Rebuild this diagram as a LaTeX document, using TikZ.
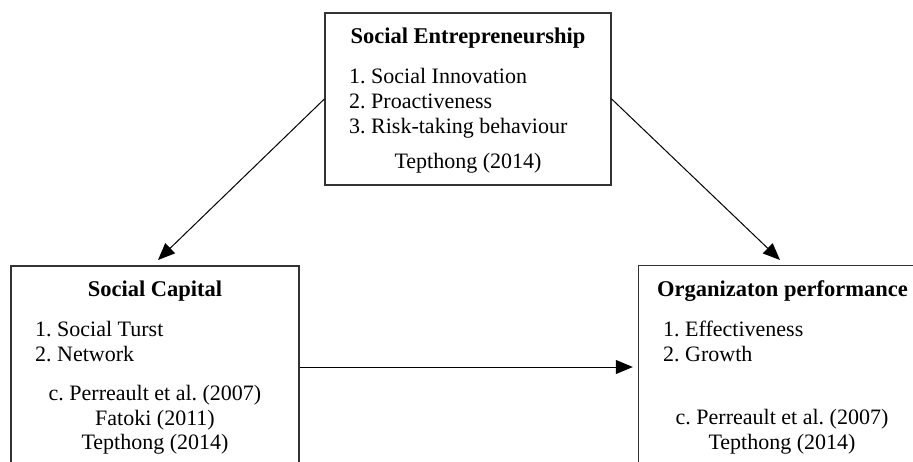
\documentclass[tikz,border=0pt]{standalone}
\usepackage{fontspec}
\setmainfont{Liberation Serif}
\usetikzlibrary{arrows.meta}
\frenchspacing
\tikzset{
  box/.style={draw=black!80, line width=1.3pt, rectangle, inner sep=0pt},
  openbox/.style={draw=none, rectangle, inner sep=0pt},
  txt/.style={inner sep=0pt, font=\fontsize{22}{25}\selectfont},
  ttl/.style={inner sep=0pt, font=\fontsize{22.5}{25}\selectfont\bfseries},
  conn/.style={draw=black, line width=1pt, -{Triangle[length=17pt,width=14pt]}}
}
\begin{document}
\begin{tikzpicture}[x=1pt,y=-1pt]
\useasboundingbox (0,0) rectangle (913,461);
\clip (0,0) rectangle (913,461);
% boxes
\node[box, minimum width=286pt, minimum height=172pt] (se) at (468,99) {};
\node[box, minimum width=288pt, minimum height=220pt] (sc) at (155,376) {};
\node[openbox, minimum width=300pt, minimum height=220pt] (op) at (789,376) {};
\draw[black!80, line width=1.3pt] (op.north east) -- (op.north west) -- (op.south west);
% top box text
\node[ttl, anchor=base] (set) at (468,43) {Social Entrepreneurship};
\node[txt, anchor=base west] (se1) at (349,83) {1. Social Innovation};
\node[txt, anchor=base west] (se2) at (349,108) {2. Proactiveness};
\node[txt, anchor=base west] (se3) at (349,133) {3. Risk-taking behaviour};
\node[txt, anchor=base] (sec) at (468,168) {Tepthong (2014)};
% left box text
\node[ttl, anchor=base] (sct) at (155,296) {Social Capital};
\node[txt, anchor=base west] (sc1) at (35,336) {1. Social Turst};
\node[txt, anchor=base west] (sc2) at (35,361) {2. Network};
\node[txt, anchor=base] (scc1) at (155,400) {c. Perreault et al. (2007)};
\node[txt, anchor=base] (scc2) at (155,425) {Fatoki (2011)};
\node[txt, anchor=base] (scc3) at (155,449) {Tepthong (2014)};
% right box text
\node[ttl, anchor=base west] (opt) at (657,296) {Organizaton performance};
\node[txt, anchor=base west] (op1) at (663,336) {1. Effectiveness};
\node[txt, anchor=base west] (op2) at (663,361) {2. Growth};
\node[txt, anchor=base] (opc1) at (782,424) {c. Perreault et al. (2007)};
\node[txt, anchor=base] (opc2) at (782,449) {Tepthong (2014)};
% connectors
\coordinate (scin) at (158,260);
\coordinate (opin) at (780,260);
\coordinate (hy) at (0,367);
\draw[conn] (se.west) -- (scin);
\draw[conn] (se.east) -- (opin);
\draw[conn] (sc.east |- hy) -- ([xshift=-6pt]op.west |- hy);
\end{tikzpicture}
\end{document}
